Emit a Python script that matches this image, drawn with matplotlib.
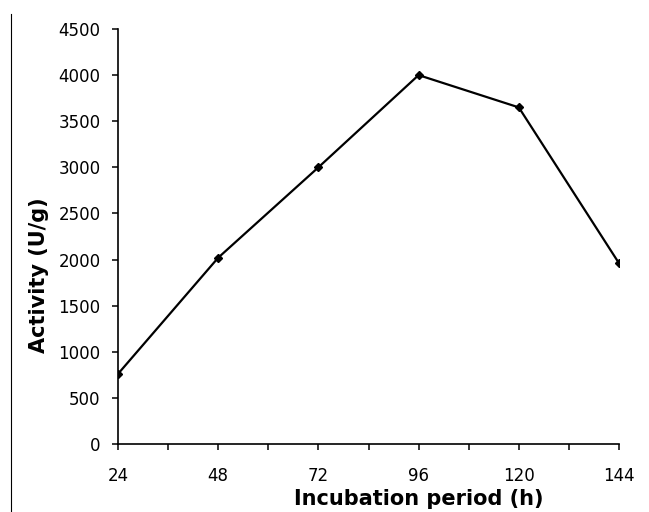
import matplotlib.pyplot as plt
from matplotlib.lines import Line2D
from matplotlib.ticker import MultipleLocator

plt.rcParams['font.family'] = ['DejaVu Sans']

hours = [24, 48, 72, 96, 120, 144]
activity = [760, 2020, 3000, 4000, 3650, 1960]

W, H = 649, 512
fig = plt.figure(figsize=(W / 100, H / 100), dpi=100)
ax = fig.add_axes([118 / W, 1 - 444 / H, 501 / W, 415 / H])

ax.plot(hours, activity, color='black', linewidth=1.6, marker='D', markersize=4.5)

ax.set_xlim(24, 144)
ax.set_ylim(0, 4500)
ax.set_xticks(hours)
ax.xaxis.set_minor_locator(MultipleLocator(12))
ax.yaxis.set_major_locator(MultipleLocator(500))

for side in ['top', 'right']:
    ax.spines[side].set_visible(False)
for side in ['left', 'bottom']:
    ax.spines[side].set_linewidth(1.2)

ax.tick_params(axis='both', which='both', direction='out', width=1.1, length=4.5, labelsize=12)
ax.tick_params(axis='x', pad=12)
ax.tick_params(axis='y', pad=8)

# axis titles placed where they sit in the original
fig.text(419 / W, 1 - 505 / H, 'Incubation period (h)', fontsize=15, fontweight='bold',
         ha='center', va='baseline')
fig.text(39 / W, 1 - 275 / H, 'Activity (U/g)', fontsize=15, fontweight='bold',
         ha='center', va='center', rotation=90)

# thin frame line on the far left
fig.add_artist(Line2D([11 / W, 11 / W], [1 - 14 / H, 0],
                      color='black', linewidth=0.8, transform=fig.transFigure))

fig.savefig('out.png', dpi=100)
